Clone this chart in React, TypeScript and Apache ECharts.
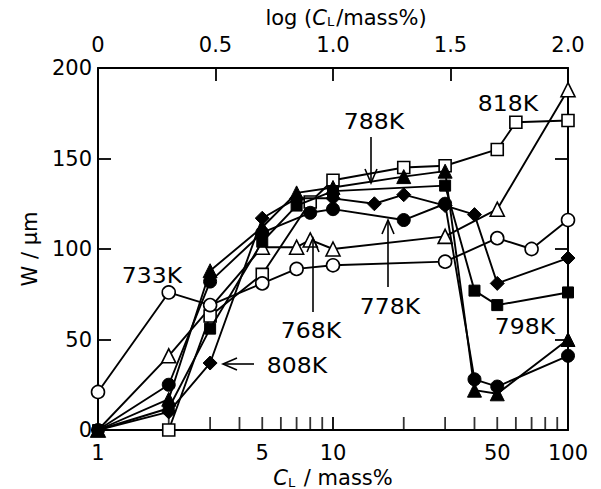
import React, { useEffect, useRef } from 'react';
import * as echarts from 'echarts';

// CL (mass%) positions and W (um) values for each temperature
const cl733 = [1, 2, 3, 5, 7, 10, 30, 50, 70, 100];
const w733 = [21, 76, 69, 81, 89, 91, 93, 106, 100, 116];
const cl768 = [1, 2, 5, 7, 8, 10, 30, 50, 100];
const w768 = [0, 41, 101, 101, 105, 100, 107, 122, 188];
const cl778 = [1, 2, 3, 5, 8, 10, 20, 30, 40, 50, 100];
const w778 = [0, 25, 82, 109, 120, 122, 116, 125, 28, 24, 41];
const cl788 = [1, 2, 3, 5, 7, 10, 20, 30, 40, 50, 100];
const w788 = [0, 17, 88, 112, 131, 134, 140, 143, 22, 20, 50];
const cl798 = [1, 2, 3, 5, 7, 10, 30, 40, 50, 100];
const w798 = [0, 12, 56, 104, 124, 132, 135, 77, 69, 76];
const cl808 = [1, 2, 3, 5, 7, 10, 15, 20, 30, 40, 50, 100];
const w808 = [0, 10, 37, 117, 128, 128, 125, 130, 124, 119, 81, 95];
const cl818 = [2, 3, 5, 8, 10, 20, 30, 50, 60, 100];
const w818 = [0, 63, 86, 126, 138, 145, 146, 155, 170, 171];

const minorTicks = [2, 3, 4, 5, 6, 7, 8, 9, 20, 30, 40, 50, 60, 70, 80, 90];
const extraTickLabels = [5, 50];
const topTickLabels = ['0', '0.5', '1.0', '1.5', '2.0'];

const FONT = '"DejaVu Sans", sans-serif';

const pairs = (cl: number[], w: number[]) => cl.map((c, i) => [c, w[i]]);

function lineSeries(name: string, cl: number[], w: number[], symbol: string, filled: boolean, size: number) {
  return {
    type: 'line',
    name,
    data: pairs(cl, w),
    symbol,
    symbolSize: size,
    showAllSymbol: true,
    clip: false,
    lineStyle: { color: '#000', width: 1.9 },
    itemStyle: filled
      ? { color: '#000', borderColor: '#000', borderWidth: 1 }
      : { color: '#fff', borderColor: '#000', borderWidth: 1.6 },
    emphasis: { disabled: true },
    z: filled ? 4 : 3,
  };
}

export default function App() {
  const ref = useRef<HTMLDivElement>(null);
  useEffect(() => {
    if (!ref.current) return;
    const chart = echarts.init(ref.current, null, { renderer: 'svg' });
    const labelStyle = { color: '#000', fontSize: 21, fontFamily: FONT };
    const rich = {
      i: { fontStyle: 'italic', fontSize: 21, fontFamily: FONT, color: '#000' },
      s: { fontSize: 13, fontFamily: FONT, color: '#000', verticalAlign: 'bottom', padding: [8, 2, 0, 0] },
      n: { fontSize: 21, fontFamily: FONT, color: '#000' },
    };
    const annotations = [
      { t: '733K', x: 152, y: 275 },
      { t: '768K', x: 311, y: 330 },
      { t: '778K', x: 390, y: 306 },
      { t: '788K', x: 374, y: 121 },
      { t: '798K', x: 525, y: 326 },
      { t: '808K', x: 297, y: 365 },
      { t: '818K', x: 508, y: 103 },
    ];
    const arrows = [
      { shaft: [[313, 312], [313, 238]], head: [[307, 252], [313, 238], [319, 252]] },
      { shaft: [[388, 287], [388, 220]], head: [[382, 234], [388, 220], [394, 234]] },
      { shaft: [[371, 137], [371, 183]], head: [[365, 169], [371, 183], [377, 169]] },
      { shaft: [[254, 364], [223, 364]], head: [[237, 358], [223, 364], [237, 370]] },
    ];
    const graphic: any[] = [];
    annotations.forEach((a) => {
      graphic.push({
        type: 'text',
        x: a.x,
        y: a.y,
        scaleX: 1.12,
        style: { text: a.t, fill: '#000', fontSize: 21, fontFamily: FONT, textAlign: 'center', textVerticalAlign: 'middle' },
        z: 10,
      });
    });
    arrows.forEach((a) => {
      graphic.push({
        type: 'line',
        shape: { x1: a.shaft[0][0], y1: a.shaft[0][1], x2: a.shaft[1][0], y2: a.shaft[1][1] },
        style: { stroke: '#000', lineWidth: 1.6 },
        z: 10,
      });
      graphic.push({
        type: 'polyline',
        shape: { points: a.head },
        style: { stroke: '#000', lineWidth: 1.6, fill: null },
        z: 10,
      });
    });

    const axisCommon = {
      axisLine: { show: true, onZero: false, lineStyle: { color: '#000', width: 2 } },
      axisTick: { show: true, inside: true, length: 13, lineStyle: { color: '#000', width: 1.8 } },
      splitLine: { show: false },
    };

    chart.setOption({
      animation: false,
      grid: { left: 98, right: 33, top: 68, bottom: 59, containLabel: false, outerBoundsMode: 'none' },
      xAxis: [
        {
          type: 'log',
          logBase: 10,
          min: 1,
          max: 100,
          position: 'bottom',
          ...axisCommon,
          axisLabel: { ...labelStyle, margin: 12 },
          name: '{i|C}{s|L} {n|/ mass%}',
          nameLocation: 'middle',
          nameGap: 34,
          nameTextStyle: { ...labelStyle, rich },
        },
        {
          type: 'value',
          min: 0,
          max: 2,
          interval: 0.5,
          position: 'top',
          ...axisCommon,
          axisLabel: {
            ...labelStyle,
            margin: 13,
            formatter: (v: number) => topTickLabels[Math.round(v * 2)] ?? String(v),
          },
          name: '{n|log (}{i|C}{s|L}{n|/mass%)}',
          nameLocation: 'middle',
          nameGap: 40,
          nameTextStyle: { ...labelStyle, rich, padding: [0, 0, 0, 26] },
        },
      ],
      yAxis: [
        {
          type: 'value',
          min: 0,
          max: 200,
          interval: 50,
          position: 'left',
          ...axisCommon,
          axisLabel: { ...labelStyle, margin: 6 },
          name: 'W / μm',
          nameLocation: 'middle',
          nameGap: 58,
          nameRotate: 90,
          nameTextStyle: { ...labelStyle },
        },
        {
          type: 'value',
          min: 0,
          max: 200,
          interval: 50,
          position: 'right',
          ...axisCommon,
          axisLabel: { show: false },
        },
      ],
      series: [
        {
          type: 'scatter',
          name: 'minorTicks',
          data: minorTicks.map((v) => [v, 0]),
          symbol: 'rect',
          symbolSize: [1.8, 13],
          symbolOffset: [0, -6.5],
          itemStyle: { color: '#000' },
          silent: true,
          clip: false,
          z: 1,
        },
        {
          type: 'scatter',
          name: 'extraTickLabels',
          data: extraTickLabels.map((v) => [v, 0]),
          symbol: 'circle',
          symbolSize: 0.5,
          itemStyle: { color: 'rgba(0,0,0,0)' },
          silent: true,
          clip: false,
          label: {
            show: true,
            position: 'bottom',
            distance: 12,
            formatter: (p: any) => String(p.value[0]),
            color: '#000',
            opacity: 1,
            fontSize: 21,
            fontFamily: FONT,
            textBorderWidth: 0,
            textBorderColor: 'transparent',
            textShadowBlur: 0,
          },
          labelLayout: { hideOverlap: false },
          z: 5,
        },
        lineSeries('818K', cl818, w818, 'rect', false, 12),
        lineSeries('768K', cl768, w768, 'triangle', false, 14),
        lineSeries('733K', cl733, w733, 'circle', false, 13),
        lineSeries('798K', cl798, w798, 'rect', true, 11),
        lineSeries('808K', cl808, w808, 'diamond', true, 14),
        lineSeries('778K', cl778, w778, 'circle', true, 13),
        lineSeries('788K', cl788, w788, 'triangle', true, 14),
      ],
      graphic,
    });
    return () => chart.dispose();
  }, []);
  return <div ref={ref} style={{ position: 'fixed', left: 0, top: 0, width: 601, height: 489, background: '#fff' }} />;
}
